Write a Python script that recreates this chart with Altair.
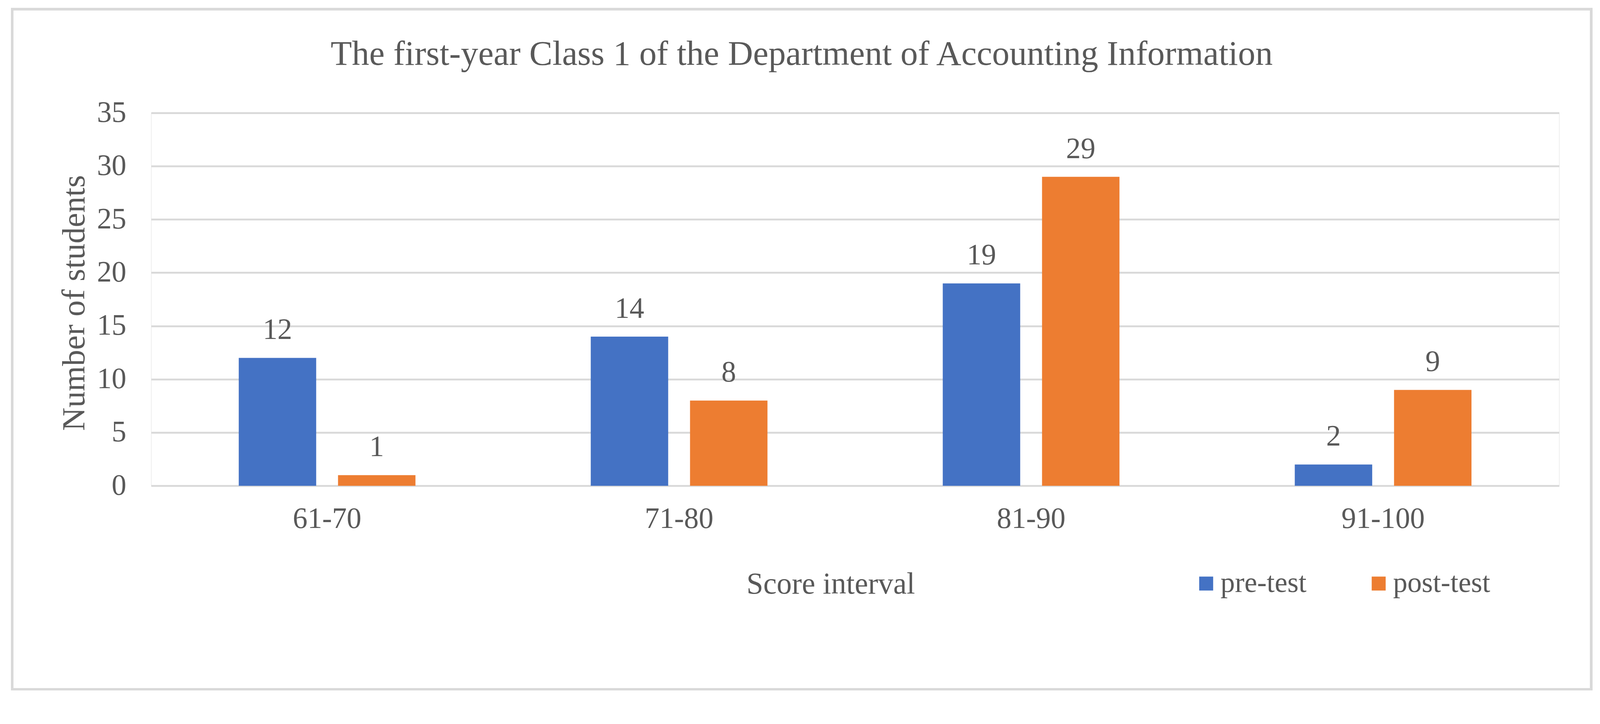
import altair as alt
import pandas as pd

intervals = ["61-70", "71-80", "81-90", "91-100"]
tests = ["pre-test", "post-test"]
pre_test = [12, 14, 19, 2]
post_test = [1, 8, 29, 9]
y_ticks = [0, 5, 10, 15, 20, 25, 30, 35]
colors = ["#4472C4", "#ED7D31"]

rows = []
for i, iv in enumerate(intervals):
    rows.append({"interval": iv, "test": tests[0], "value": pre_test[i]})
    rows.append({"interval": iv, "test": tests[1], "value": post_test[i]})
df = pd.DataFrame(rows)

FONT = "Liberation Serif"
TXT = "#595959"
GRID = "#d9d9d9"

x_enc = alt.X(
    "interval:N",
    sort=intervals,
    scale=alt.Scale(paddingInner=0.498, paddingOuter=0.249),
    axis=alt.Axis(
        labelAngle=0,
        labelFont=FONT,
        labelFontSize=78,
        labelColor=TXT,
        labelBaseline="alphabetic",
        labelPadding=111,
        labelLimit=0,
        ticks=False,
        domain=False,
        grid=False,
        title="Score interval",
        titleFont=FONT,
        titleFontSize=80,
        titleFontWeight="normal",
        titleColor=TXT,
        titleX=1800,
        titleY=285,
        titleAlign="center",
        titleBaseline="alphabetic",
    ),
)
xoff_enc = alt.XOffset(
    "test:N",
    sort=tests,
    scale=alt.Scale(domain=tests, paddingInner=0.22, paddingOuter=0),
)
y_enc = alt.Y(
    "value:Q",
    scale=alt.Scale(domain=[0, 35], nice=False),
    axis=alt.Axis(
        values=y_ticks,
        labelFont=FONT,
        labelFontSize=78,
        labelColor=TXT,
        labelBaseline="middle",
        labelPadding=66,
        ticks=False,
        domain=False,
        grid=True,
        gridColor=GRID,
        gridWidth=5,
        title="Number of students",
        titleFont=FONT,
        titleFontSize=86,
        titleFontWeight="normal",
        titleColor=TXT,
        titleAngle=270,
        titleX=-177,
        titleY=503,
        titleAlign="center",
        titleBaseline="alphabetic",
    ),
)

border = alt.Chart(df).mark_rect(filled=False, stroke=GRID, strokeWidth=6).encode(
    x=alt.value(-368), x2=alt.value(3815), y=alt.value(-275), y2=alt.value(1527)
)

bars = alt.Chart(df).mark_bar().encode(
    x=x_enc,
    xOffset=xoff_enc,
    y=y_enc,
    color=alt.Color(
        "test:N",
        sort=tests,
        scale=alt.Scale(domain=tests, range=colors),
        title=None,
        legend=alt.Legend(
            orient="none",
            legendX=2757,
            legendY=1209,
            direction="horizontal",
            symbolType="square",
            symbolSize=1369,
            symbolStrokeWidth=0,
            labelFont=FONT,
            labelFontSize=76,
            labelColor=TXT,
            labelOffset=0,
            labelLimit=0,
            columnPadding=153,
        ),
    ),
)

labels = alt.Chart(df).mark_text(
    font=FONT, fontSize=78, color=TXT, baseline="alphabetic", dy=-50
).encode(
    x=alt.X("interval:N", sort=intervals),
    xOffset=alt.XOffset("test:N", sort=tests),
    y="value:Q",
    text="value:Q",
)

chart = (
    alt.layer(border, bars, labels)
    .properties(
        width=3730,
        height=988,
        autosize=alt.AutoSizeParams(type="none"),
        padding={"left": 392, "top": 259, "right": 100, "bottom": 591},
        title=alt.TitleParams(
            "The first-year Class 1 of the Department of Accounting Information",
            font=FONT,
            fontSize=92,
            fontWeight="normal",
            color=TXT,
            anchor="middle",
            frame="bounds",
            baseline="alphabetic",
            offset=-242,
        ),
    )
    .configure_view(strokeWidth=0)
    .configure(background="white")
)

chart.save("out.html", embed_options={"renderer": "svg", "actions": False})
